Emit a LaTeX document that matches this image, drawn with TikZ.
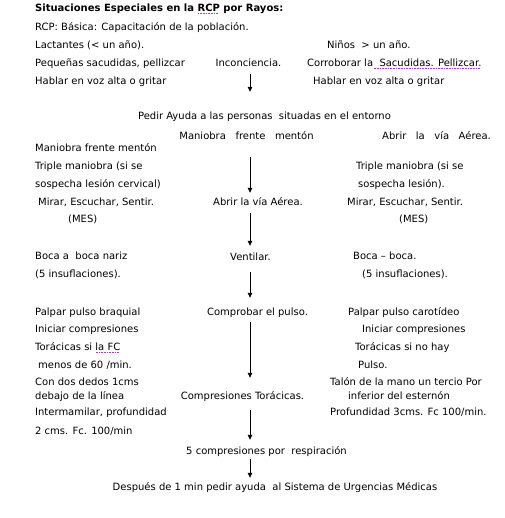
\documentclass[tikz,border=0pt]{standalone}
\usepackage{fontspec}
\setmainfont{DejaVu Sans}
\usepackage{tikz}
\usetikzlibrary{arrows.meta}
\usepackage{xcolor}
\definecolor{smartpurple}{RGB}{175,60,205}
% dotted smart-tag underline as in the scanned page
\newcommand\smarttag[1]{\setbox0=\hbox{#1}\rlap{\raisebox{-2pt}{\color{smartpurple}\hbox to\wd0{\leaders\hbox to 1.6pt{\hss\rule{0.8pt}{0.6pt}\hss}\hfill}}}\box0{}}

\begin{document}
\begin{tikzpicture}[
        x=1pt, y=-1pt,
        txt/.style={
            inner sep=0pt,
            text height=7.2pt,
            text depth=2pt,
            font=\fontsize{10}{12}\selectfont
        },
        lcol/.style={txt, anchor=west},
        ccol/.style={txt, anchor=center},
        arrow/.style={
            -{Triangle[length=5pt, width=4.5pt]},
            line width=0.8pt
        }
    ]
        \useasboundingbox (0,0) rectangle (504,518);
        \coordinate (axis) at (250,0);

        % heading
        \node[lcol, font=\fontsize{10}{12}\selectfont\bfseries] (title) at (35,9) {Situaciones Especiales en la \smarttag{RCP} por Rayos:};
        \node[lcol] (basica) at (35,28) {RCP: Básica: Capacitación de la población.};
        \node[lcol] (lact) at (35,46) {Lactantes (< un año).};
        \node[lcol] (ninos) at (327,46) {Niños~ > un año.};

        % main column
        \node[ccol] (incon) at (248.5,64) {Inconciencia.};
        \node[ccol] (pedir) at (264.5,117) {Pedir Ayuda a las personas~ situadas en el entorno};
        \node[ccol] (maniobra) at (246.5,137) {Maniobra~~ frente~~ mentón};
        \node[ccol] (abrir) at (258,203) {Abrir la vía Aérea.};
        \node[ccol] (ventilar) at (250.5,258) {Ventilar.};
        \node[ccol] (comprobar) at (257.5,313) {Comprobar el pulso.};
        \node[ccol] (compresiones) at (242.5,397) {Compresiones Torácicas.};
        \node[ccol] (cinco) at (266.5,452) {5 compresiones por~ respiración};
        \node[ccol] (despues) at (275,488) {Después de 1 min pedir ayuda~ al Sistema de Urgencias Médicas};

        % lactantes (left)
        \node[lcol] (pequenas) at (35,64) {Pequeñas sacudidas, pellizcar};
        \node[lcol] (hablarl) at (35,82) {Hablar en voz alta o gritar};
        \node[lcol] (maniobral) at (35,149) {Maniobra frente mentón};
        \node[lcol] (triplel) at (35,167) {Triple maniobra (si se};
        \node[lcol] (sospl) at (35,185) {sospecha lesión cervical)};
        \node[lcol] (mirarl) at (38,203) {Mirar, Escuchar, Sentir.};
        \node[lcol] (mesl) at (68,220) {(MES)};
        \node[lcol] (bocal) at (35,257) {Boca a~ boca nariz};
        \node[lcol] (insufl) at (35,275) {(5 insuflaciones).};
        \node[lcol] (braquial) at (35,313) {Palpar pulso braquial};
        \node[lcol] (inicl) at (35,330) {Iniciar compresiones};
        \node[lcol] (torl) at (35,348) {Torácicas si \smarttag{la FC}};
        \node[lcol] (menos) at (38,366) {menos de 60 /min.};
        \node[lcol] (dedos) at (35,383) {Con dos dedos 1cms};
        \node[lcol] (debajo) at (35,397) {debajo de la línea};
        \node[lcol] (intermam) at (35,413) {Intermamilar, profundidad};
        \node[lcol] (prof2) at (35,432) {2 cms. Fc. 100/min};

        % ninos (right)
        \node[lcol] (corrob) at (307,64) {Corroborar la\smarttag{~~Sacudidas. Pellizcar.}};
        \node[lcol] (hablarr) at (313,82) {Hablar en voz alta o gritar};
        \node[lcol] (abrirr) at (382,137) {Abrir~~ la~~ vía~~ Aérea.};
        \node[lcol] (tripler) at (356,167) {Triple maniobra (si se};
        \node[lcol] (sospr) at (358,185) {sospecha lesión).};
        \node[lcol] (mirarr) at (347,203) {Mirar, Escuchar, Sentir.};
        \node[lcol] (mesr) at (399,220) {(MES)};
        \node[lcol] (bocar) at (353,257) {Boca – boca.};
        \node[lcol] (insufr) at (362,275) {(5 insuflaciones).};
        \node[lcol] (carot) at (348,313) {Palpar pulso carotídeo};
        \node[lcol] (inicr) at (362,330) {Iniciar compresiones};
        \node[lcol] (torr) at (355,348) {Torácicas si no hay};
        \node[lcol] (pulso) at (358,366) {Pulso.};
        \node[lcol] (talon) at (330,383) {Talón de la mano un tercio Por};
        \node[lcol] (esternon) at (348,397) {inferior del esternón};
        \node[lcol] (prof3) at (330,413) {Profundidad 3cms. Fc 100/min.};

        \draw[arrow, shorten <=5.4pt, shorten >=20.4pt] (incon.south -| axis) -- (pedir.north -| axis);
        \draw[arrow, shorten <=15.4pt, shorten >=5.4pt] (maniobra.south -| axis) -- (abrir.north -| axis);
        \draw[arrow, shorten <=5.4pt, shorten >=7.4pt] (abrir.south -| axis) -- (ventilar.north -| axis);
        \draw[arrow, shorten <=9.4pt, shorten >=10.4pt] (ventilar.south -| axis) -- (comprobar.north -| axis);
        \draw[arrow, shorten <=4.4pt, shorten >=14.4pt] (comprobar.south -| axis) -- (compresiones.north -| axis);
        \draw[arrow, shorten <=8.4pt, shorten >=7.4pt] (compresiones.south -| axis) -- (cinco.north -| axis);
        \draw[arrow, shorten <=2.4pt, shorten >=5.4pt] (cinco.south -| axis) -- (despues.north -| axis);

    \end{tikzpicture}
\end{document}
